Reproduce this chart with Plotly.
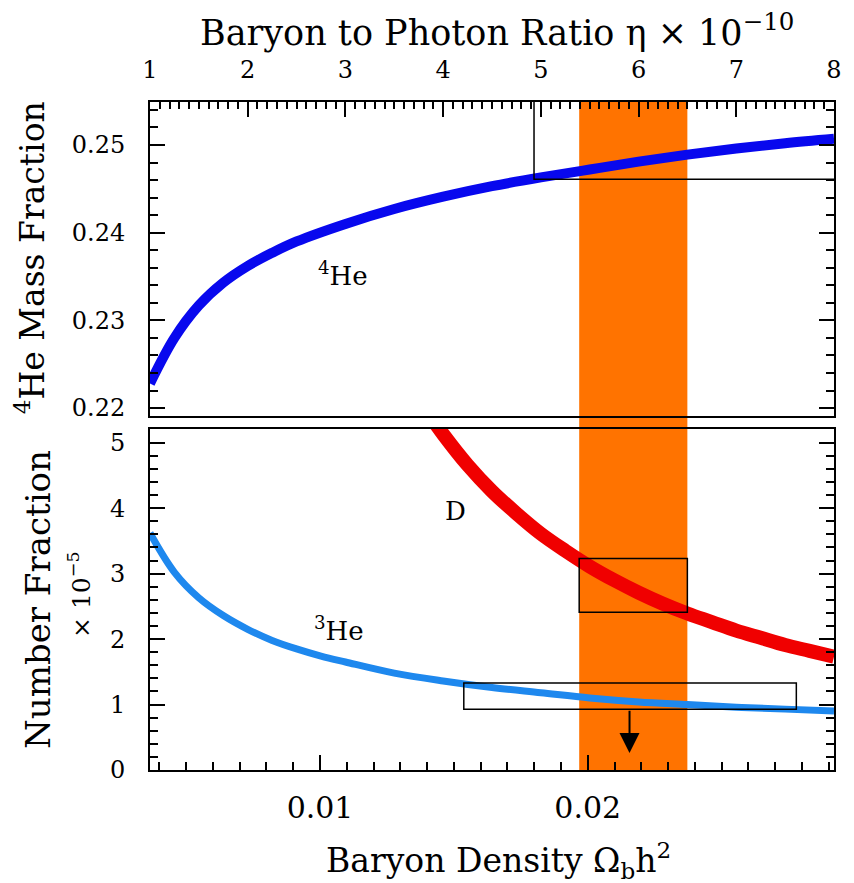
import plotly.graph_objects as go

# conversion eta_10 = 274 * Omega_b h^2
ETA_PER_OMEGA = 274.0

# 4He mass fraction vs eta (x 1e-10)
he4_eta = [1.0, 1.25, 1.5, 1.75, 2.0, 2.25, 2.5, 3.0, 3.5, 4.0, 4.5, 5.0, 5.5, 6.0, 6.5,
           7.0, 7.5, 8.0]
he4_yp = [0.2228, 0.2280, 0.2317, 0.2343, 0.2362, 0.2377, 0.2390, 0.2410, 0.2427, 0.2441,
          0.2453, 0.2463, 0.2472, 0.2481, 0.2489, 0.2496, 0.2502, 0.2507]

# 3He/H (x 1e-5) vs eta
he3_eta = [1.0, 1.25, 1.5, 1.75, 2.0, 2.25, 2.5, 2.75, 3.0, 3.5, 4.0, 4.5, 5.0, 5.5, 6.0,
           6.5, 7.0, 7.5, 8.0]
he3_val = [3.62, 3.02, 2.63, 2.36, 2.15, 1.98, 1.85, 1.74, 1.65, 1.48, 1.36, 1.26, 1.18,
           1.10, 1.04, 1.00, 0.96, 0.93, 0.90]

# D/H (x 1e-5) vs eta
d_eta = [3.8, 4.0, 4.25, 4.5, 4.75, 5.0, 5.25, 5.5, 5.75, 6.0, 6.25, 6.5, 6.75, 7.0, 7.25,
         7.5, 7.75, 8.0]
d_val = [5.55, 5.13, 4.66, 4.26, 3.92, 3.61, 3.35, 3.11, 2.90, 2.71, 2.54, 2.39, 2.26, 2.13,
         2.02, 1.91, 1.82, 1.73]

# CMB band in Omega_b h^2
band = [0.01968, 0.02372]
# D/H observational box
d_box_x = [0.01968, 0.02372]
d_box_y = [2.41, 3.23]
# 3He upper-limit box
he3_box_x = [0.01537, 0.02779]
he3_box_y = [0.93, 1.33]
he3_arrow_x = 0.02156
he3_arrow_tip = 0.26
# 4He lower-limit corner (eta, Yp)
he4_limit_eta = 4.93
he4_limit_yp = 0.2461

eta_range = [1.0, 8.0]
omega_range = [eta_range[0] / ETA_PER_OMEGA, eta_range[1] / ETA_PER_OMEGA]

FONT = "DejaVu Serif"

fig = go.Figure()

fig.add_trace(go.Scatter(x=he4_eta, y=he4_yp, mode="lines", xaxis="x2", yaxis="y2",
                         line=dict(color="#0808ee", width=10, shape="spline", smoothing=1.0),
                         showlegend=False))
fig.add_trace(go.Scatter(x=[he4_limit_eta, he4_limit_eta, 9.0], y=[0.27, he4_limit_yp, he4_limit_yp],
                         mode="lines", xaxis="x2", yaxis="y2",
                         line=dict(color="black", width=1.5), showlegend=False))

fig.add_trace(go.Scatter(x=[e / ETA_PER_OMEGA for e in d_eta], y=d_val, mode="lines",
                         xaxis="x", yaxis="y",
                         line=dict(color="#f00000", width=14, shape="spline", smoothing=1.0),
                         showlegend=False))
fig.add_trace(go.Scatter(x=[e / ETA_PER_OMEGA for e in he3_eta], y=he3_val, mode="lines",
                         xaxis="x", yaxis="y",
                         line=dict(color="#1e88ee", width=7, shape="spline", smoothing=1.0),
                         showlegend=False))

fig.add_shape(type="rect", xref="x", yref="paper", x0=band[0], x1=band[1], y0=0, y1=1,
              fillcolor="#ff7300", line=dict(width=0), layer="below")
fig.add_shape(type="rect", xref="x", yref="y", x0=d_box_x[0], x1=d_box_x[1],
              y0=d_box_y[0], y1=d_box_y[1], line=dict(color="black", width=1.5))
fig.add_shape(type="rect", xref="x", yref="y", x0=he3_box_x[0], x1=he3_box_x[1],
              y0=he3_box_y[0], y1=he3_box_y[1], line=dict(color="black", width=1.5))

fig.add_annotation(x=he3_arrow_x, y=he3_arrow_tip, ax=he3_arrow_x, ay=he3_box_y[0],
                   xref="x", yref="y", axref="x", ayref="y", text="", showarrow=True,
                   arrowhead=2, arrowsize=2.0, arrowwidth=2, arrowcolor="black")

lab_font = dict(family=FONT, size=26, color="black")
fig.add_annotation(x=2.98, y=0.2353, xref="x2", yref="y2", text="<sup>4</sup>He",
                   showarrow=False, font=lab_font)
fig.add_annotation(x=4.13 / ETA_PER_OMEGA, y=3.96, xref="x", yref="y", text="D",
                   showarrow=False, font=lab_font)
fig.add_annotation(x=2.93 / ETA_PER_OMEGA, y=2.15, xref="x", yref="y", text="<sup>3</sup>He",
                   showarrow=False, font=lab_font)

fig.add_annotation(x=0.5, y=1, xref="paper", yref="paper", yshift=72, xshift=5,
                   text="Baryon to Photon Ratio η × 10<sup>−10</sup>", showarrow=False,
                   font=dict(family=FONT, size=35, color="black"),
                   xanchor="center", yanchor="middle")
fig.add_annotation(x=0.5, y=0, xref="paper", yref="paper", yshift=-90, xshift=6,
                   text="Baryon Density Ω<sub>b</sub>h<sup>2</sup>", showarrow=False,
                   font=dict(family=FONT, size=33, color="black"),
                   xanchor="center", yanchor="middle")
fig.add_annotation(x=0, y=0.766, xref="paper", yref="paper", xshift=-120,
                   text="<sup>4</sup>He Mass Fraction", showarrow=False, textangle=-90,
                   font=dict(family=FONT, size=33, color="black"),
                   xanchor="center", yanchor="middle")
fig.add_annotation(x=0, y=0.2545, xref="paper", yref="paper", xshift=-112,
                   text="Number Fraction", showarrow=False, textangle=-90,
                   font=dict(family=FONT, size=34, color="black"),
                   xanchor="center", yanchor="middle")
fig.add_annotation(x=0, y=0.262, xref="paper", yref="paper", xshift=-70,
                   text="× 10<sup>−5</sup>", showarrow=False, textangle=-90,
                   font=dict(family=FONT, size=25, color="black"), xanchor="center",
                   yanchor="middle")

common = dict(showline=True, linecolor="black", linewidth=2, showgrid=False, zeroline=False,
              ticks="inside", tickcolor="black", tickwidth=1.5)

fig.update_layout(
    width=854, height=883,
    margin=dict(l=150, r=16, t=102, b=113),
    paper_bgcolor="white", plot_bgcolor="white",
    showlegend=False,
    xaxis=dict(domain=[0, 1], anchor="y", range=omega_range, tick0=0, dtick=0.01,
               tickformat=".2f", ticklen=15, mirror=True, ticklabelstandoff=10,
               tickfont=dict(family=FONT, size=30, color="black"),
               minor=dict(dtick=0.001, tick0=0, ticks="inside", ticklen=8, tickcolor="black",
                          tickwidth=1.5),
               **common),
    yaxis=dict(domain=[0, 0.5105], anchor="x", range=[0, 5.21], tick0=0, dtick=1,
               ticklen=15, mirror="ticks", ticklabelstandoff=18,
               tickfont=dict(family=FONT, size=24, color="black"),
               minor=dict(dtick=0.2, tick0=0, ticks="inside", ticklen=8, tickcolor="black",
                          tickwidth=1.5),
               **common),
    xaxis2=dict(domain=[0, 1], anchor="y2", side="top", range=eta_range, tick0=0, dtick=1,
                ticklen=15, mirror=True, ticklabelstandoff=12,
                tickfont=dict(family=FONT, size=24, color="black"),
                minor=dict(dtick=0.1, tick0=0, ticks="inside", ticklen=7, tickcolor="black",
                           tickwidth=1.5),
                **common),
    yaxis2=dict(domain=[0.53, 1], anchor="x2", range=[0.2191, 0.2549], tick0=0, dtick=0.01,
                tickformat=".2f", ticklen=15, mirror="ticks", ticklabelstandoff=18,
                tickfont=dict(family=FONT, size=24, color="black"),
                minor=dict(dtick=0.002, tick0=0, ticks="inside", ticklen=8, tickcolor="black",
                           tickwidth=1.5),
                **common),
)

fig.write_html("out.html")
